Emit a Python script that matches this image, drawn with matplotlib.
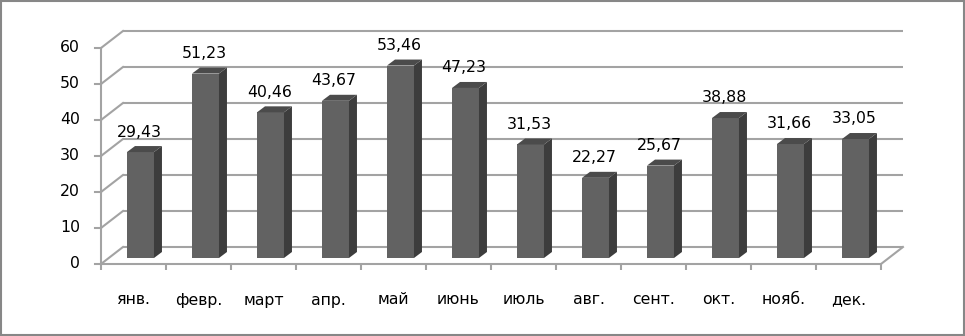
import matplotlib
matplotlib.use("Agg")
import matplotlib.pyplot as plt
from matplotlib.patches import Polygon, Rectangle

# data
months = ["янв.", "февр.", "март", "апр.", "май", "июнь", "июль", "авг.", "сент.", "окт.", "нояб.", "дек."]
values = [29.43, 51.23, 40.46, 43.67, 53.46, 47.23, 31.53, 22.27, 25.67, 38.88, 31.66, 33.05]
yticks = [0, 10, 20, 30, 40, 50, 60]

# pseudo-3D geometry (in data units)
DX, DY = 0.338, 4.72        # depth of the back wall
BAR_X, BAR_W = 0.40, 0.415  # bar front face position inside a category
BASE = 1.667                # bar sits a bit behind the front edge
BDX, BDY = 0.123, 1.667     # bar depth

GRID = "#a3a3a3"
FONT = 11.3

fig = plt.figure(figsize=(9.65, 3.36), dpi=100)
ax = fig.add_axes([0, 0, 1, 1])
ax.set_xlim(-101 / 65, 864 / 65)
ax.set_ylim(-20, 264 / 3.6)
ax.axis("off")

n = len(months)

# back wall and left wall lines
for v in yticks:
    ax.plot([DX, n + DX], [v + DY, v + DY], color=GRID, lw=1.5, zorder=1, solid_capstyle="butt")
    ax.plot([0, DX], [v, v + DY], color=GRID, lw=1.5, zorder=1)
    ax.plot([-0.1, 0], [v, v], color=GRID, lw=1.5, zorder=3)
    ax.text(-0.323, v, str(v), ha="right", va="center", fontsize=FONT)

# floor
ax.plot([n, n + DX], [0, DY], color=GRID, lw=1.5, zorder=1)
ax.plot([0, n], [0, 0], color=GRID, lw=1.5, zorder=3, solid_capstyle="butt")
ax.plot([0, 0], [0, yticks[-1]], color=GRID, lw=1.5, zorder=3, solid_capstyle="butt")
for i in range(n + 1):
    ax.plot([i, i], [0, -1.7], color=GRID, lw=1.5, zorder=3, solid_capstyle="butt")

# bars
for i, v in enumerate(values):
    x0 = i + BAR_X
    x1 = x0 + BAR_W
    top = BASE + v
    ax.add_patch(Rectangle((x0, BASE), BAR_W, v, facecolor="#626262", edgecolor="none", zorder=2))
    ax.add_patch(Polygon([(x1, BASE), (x1 + BDX, BASE + BDY), (x1 + BDX, top + BDY), (x1, top)],
                         facecolor="#3d3d3d", edgecolor="none", zorder=2))
    ax.add_patch(Polygon([(x0, top), (x0 + BDX, top + BDY), (x1 + BDX, top + BDY), (x1, top)],
                         facecolor="#4b4b4b", edgecolor="none", zorder=2))
    lab = f"{v:.2f}".replace(".", ",")
    ax.text(x0 + BAR_W / 2 - 0.02, top + BDY + 3.9, lab, ha="center", va="center", fontsize=FONT, zorder=4)
    ax.text(i + 0.5, -10, months[i], ha="center", va="center", fontsize=FONT)

# outer frame
fig.add_artist(Rectangle((0.001, 0.002), 0.998, 0.996, transform=fig.transFigure,
                         fill=False, edgecolor="#878787", lw=1.5))

fig.savefig("out.png", dpi=100)
